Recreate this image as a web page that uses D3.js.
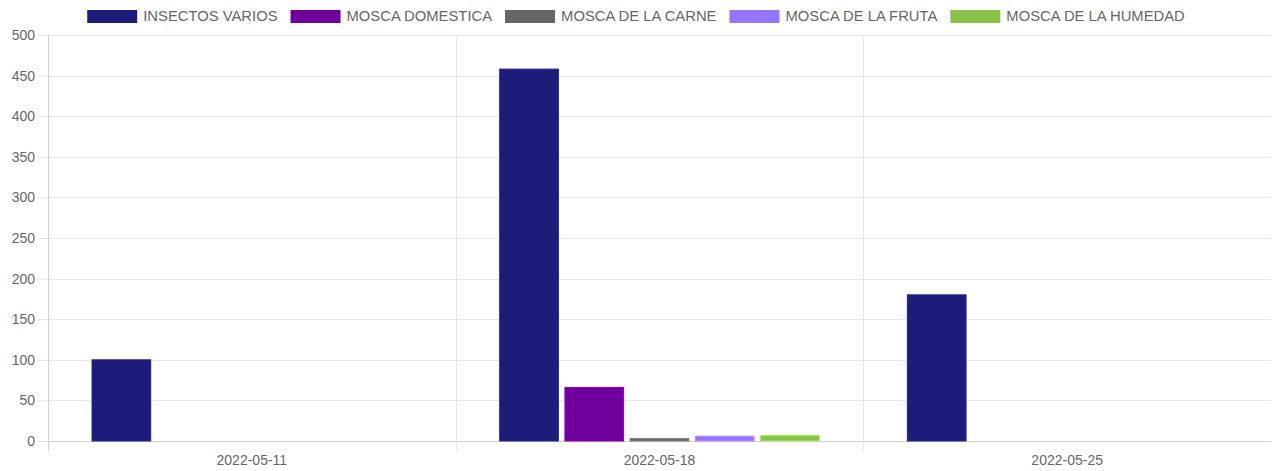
<!DOCTYPE html>
<html>
<head>
<meta charset="utf-8">
<script src="https://cdn.jsdelivr.net/npm/d3@7"></script>
<style>
  body { margin: 0; background: #fff; }
  text { font-family: "Liberation Sans", Arial, sans-serif; }
</style>
</head>
<body>
<div id="chart"></div>
<script>
// data
const fechas = ["2022-05-11", "2022-05-18", "2022-05-25"];
const series = ["INSECTOS VARIOS", "MOSCA DOMESTICA", "MOSCA DE LA CARNE", "MOSCA DE LA FRUTA", "MOSCA DE LA HUMEDAD"];
const insectosVarios = [100, 458, 180];
const moscaDomestica = [0, 66, 0];
const moscaCarne = [0, 3, 0];
const moscaFruta = [0, 6, 0];
const moscaHumedad = [0, 7, 0];
const yTicks = [0, 50, 100, 150, 200, 250, 300, 350, 400, 450, 500];
const colores = ["#1c1c7a", "#70009c", "#666666", "#9475ff", "#8bc34a"];

const valores = [insectosVarios, moscaDomestica, moscaCarne, moscaFruta, moscaHumedad];

const width = 1272, height = 471;
const margin = {top: 35, right: 1, bottom: 30, left: 48};

const svg = d3.select("#chart")
  .append("svg")
  .attr("width", width)
  .attr("height", height);

// scales
const x0 = d3.scaleBand()
  .domain(fechas)
  .range([margin.left, width - margin.right]);

const x1 = d3.scaleBand()
  .domain(series)
  .range([0, x0.bandwidth() * 0.8])
  .paddingInner(0.1)
  .paddingOuter(0.05);

const y = d3.scaleLinear()
  .domain([0, 500])
  .range([height - margin.bottom - 0, margin.top]);

// horizontal grid + y labels
svg.append("g")
  .attr("transform", `translate(${margin.left},0)`)
  .call(d3.axisLeft(y).tickValues(yTicks).tickSize(10).tickPadding(3))
  .call(g => g.select(".domain").remove())
  .call(g => g.selectAll(".tick line").attr("stroke", "#e5e5e5"))
  .call(g => g.selectAll(".tick text").attr("fill", "#666").attr("font-size", 14));

svg.append("g")
  .selectAll("line")
  .data(yTicks)
  .join("line")
  .attr("x1", margin.left)
  .attr("x2", width - margin.right)
  .attr("y1", d => Math.round(y(d)) + 0.5)
  .attr("y2", d => Math.round(y(d)) + 0.5)
  .attr("stroke", d => d === 0 ? "#d0d0d0" : "#e8e8e8");

// vertical grid lines at category edges
const bordes = fechas.map(f => x0(f));
svg.append("g")
  .selectAll("line")
  .data(bordes)
  .join("line")
  .attr("x1", d => Math.round(d) + 0.5)
  .attr("x2", d => Math.round(d) + 0.5)
  .attr("y1", margin.top)
  .attr("y2", height - margin.bottom + 10)
  .attr("stroke", (d, i) => i === 0 ? "#d0d0d0" : "#e8e8e8");

// x labels
svg.append("g")
  .attr("transform", `translate(0,${height - margin.bottom})`)
  .call(d3.axisBottom(x0).tickSize(0).tickPadding(14))
  .call(g => g.select(".domain").remove())
  .call(g => g.selectAll(".tick text").attr("fill", "#666").attr("font-size", 14));

// bars
const grupos = svg.append("g")
  .selectAll("g")
  .data(fechas)
  .join("g")
  .attr("transform", d => `translate(${x0(d) + x0.bandwidth() * 0.1},0)`);

grupos.selectAll("rect")
  .data((d, i) => series.map((s, j) => ({serie: s, valor: valores[j][i], color: colores[j]})))
  .join("rect")
  .filter(d => d.valor > 0)
  .attr("x", d => x1(d.serie))
  .attr("width", x1.bandwidth())
  .attr("y", d => y(d.valor))
  .attr("height", d => y(0) - y(d.valor))
  .attr("fill", d => d.color)
  .attr("stroke", d => d3.color(d.color).brighter(0.6))
  .attr("stroke-width", 1);

// legend
const legend = svg.append("g").attr("transform", "translate(0,10)");
const items = legend.selectAll("g")
  .data(series)
  .join("g");

items.append("rect")
  .attr("width", 50)
  .attr("height", 13)
  .attr("fill", (d, i) => colores[i]);

items.append("text")
  .attr("x", 56)
  .attr("y", 11)
  .attr("font-size", 14.8)
  .attr("fill", "#666")
  .text(d => d);

let pos = 0;
const anchos = [];
items.each(function() {
  const w = 56 + d3.select(this).select("text").node().getComputedTextLength();
  anchos.push(w);
});
const total = d3.sum(anchos) + 13 * (anchos.length - 1);
pos = (width - total) / 2;
items.attr("transform", (d, i) => {
  const t = `translate(${pos},0)`;
  pos += anchos[i] + 13;
  return t;
});
</script>
</body>
</html>
